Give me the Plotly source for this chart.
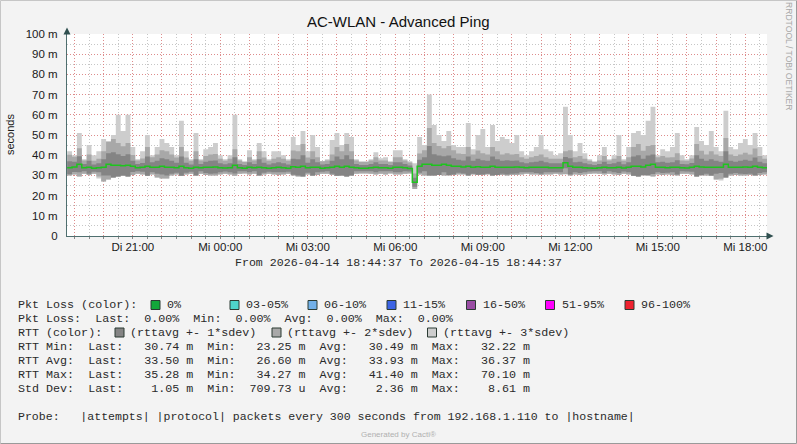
import plotly.graph_objects as go
import pandas as pd

# ---------------- data (ms), one value per 10-minute step ----------------
START = "2026-04-14 18:44:37"
END = "2026-04-15 18:44:37"
FIRST_STEP = "2026-04-14 18:45:00"
STEP_MINUTES = 10

rtt_avg = [33.8, 34.2, 35.5, 33.8, 34.0, 33.6, 33.8, 34.0, 35.5, 35.0, 35.0, 34.8, 35.0, 34.5, 33.8, 34.0,
           34.5, 34.0, 34.0, 34.5, 34.0, 34.0, 33.8, 34.5, 33.8, 33.6, 34.0, 33.8, 34.0, 34.0, 34.2, 33.8,
           33.7, 33.8, 35.0, 33.8, 33.6, 34.0, 33.8, 34.0, 33.8, 33.6, 33.8, 34.0, 33.8, 33.6, 34.3, 34.0,
           34.5, 33.8, 34.0, 34.0, 33.6, 33.8, 34.0, 34.5, 34.0, 34.5, 34.0, 33.8, 33.6, 33.6, 33.8, 34.0,
           33.8, 33.8, 33.6, 34.0, 34.0, 33.8, 33.4, 26.6, 34.5, 35.5, 35.5, 35.0, 35.0, 35.5, 35.0, 34.5,
           34.5, 34.2, 34.5, 34.0, 34.3, 34.0, 34.0, 34.5, 34.0, 34.0, 34.0, 34.0, 34.2, 34.0, 33.8, 34.0,
           34.0, 34.0, 34.0, 33.8, 33.8, 33.8, 36.3, 34.5, 34.0, 34.0, 33.8, 33.7, 33.6, 33.8, 34.0, 33.8,
           33.8, 34.0, 33.7, 34.0, 34.5, 34.5, 34.2, 35.0, 35.5, 34.0, 34.0, 33.8, 34.0, 34.0, 33.8, 33.7,
           34.0, 34.5, 34.2, 34.0, 34.0, 34.0, 34.0, 35.5, 34.0, 34.0, 34.0, 34.2, 34.0, 34.5, 34.0, 33.8]

rtt_sdev = [3.2, 2.5, 4, 1.8, 3.2, 1.8, 2.2, 4, 5.5, 6.5, 5.5, 4.8, 5.5, 2.8, 1.8, 2.2,
            4.8, 2.5, 3.2, 4, 4, 3.2, 2.5, 4.8, 2.5, 1.8, 4, 1.8, 2.8, 3.2, 3.2, 2.2,
            1.8, 2.2, 4, 1.8, 1.5, 2.5, 1.8, 4, 2.5, 1.8, 2.2, 2.5, 2.2, 1.8, 4, 4,
            5.5, 2.5, 4, 2.5, 1.8, 1.8, 3.2, 4.8, 4, 5.5, 4, 1.8, 1.5, 1.5, 1.8, 2.5,
            1.8, 1.8, 1.5, 2.5, 2.5, 1.8, 1.5, 2.2, 3.2, 3.5, 9, 5.5, 4.8, 4, 4.8, 4,
            3.2, 3.2, 4.8, 3.2, 4, 3.5, 3.2, 4.8, 4, 3.2, 3.5, 3.2, 3.2, 2.5, 2.2, 2.5,
            2.8, 3.2, 2.5, 2.2, 2.2, 2.2, 2.8, 4, 2.5, 2.8, 2.2, 1.8, 1.5, 1.8, 2.8, 1.8,
            2.2, 2.8, 1.8, 2.5, 4.8, 5.5, 4, 4.8, 4.8, 2.5, 2.8, 2.5, 2.5, 3.5, 1.8, 1.8,
            2.2, 5.5, 4, 3.2, 4, 3.2, 2.8, 6.5, 3.2, 2.8, 3.2, 3.5, 3.2, 4.4, 2.8, 2.2]

rtt_max = [42, 40, 51, 38, 45, 40, 42, 48, 47, 50, 60, 52, 60, 44, 38, 42,
           50, 40, 44, 48, 46, 44, 40, 57, 42, 38, 51, 38, 43, 44, 46, 40,
           38, 40, 60, 38, 37, 42.5, 38, 46, 42, 38, 42, 42, 40, 38, 49, 45,
           52, 42, 50, 44, 37, 38, 47.5, 51, 45, 51, 49, 38, 37, 37, 38, 41.5,
           38.5, 39, 37, 42.5, 42.5, 38, 37, 36, 49, 45, 70, 55, 50, 47, 52, 45,
           44, 44, 56, 43, 50, 53, 44, 55, 47, 49, 48, 46, 50, 42, 40, 42,
           44, 50, 43, 42, 40, 41, 64, 50, 42, 46, 41, 38, 37, 40, 44, 38,
           40, 50, 38, 44, 51, 52, 50, 57, 64, 40, 43, 42, 44, 51, 40, 38,
           40, 54, 47, 45, 52, 44, 42, 62, 44, 43, 46, 48, 45, 51, 44, 40]

rtt_min = [30.0, 30.5, 29.5, 30.8, 30.2, 30.8, 28.5, 27.0, 28.0, 29.0, 29.5, 29.8, 29.5, 30.2, 30.8, 30.5,
           29.8, 30.5, 29.0, 28.5, 28.5, 30.0, 30.5, 29.8, 30.5, 30.8, 30.0, 30.8, 30.2, 30.0, 30.0, 30.5,
           30.8, 30.5, 29.8, 30.8, 31.0, 30.5, 30.8, 30.0, 30.5, 30.8, 30.5, 30.2, 30.5, 30.8, 30.0, 29.5,
           29.5, 30.5, 29.8, 30.2, 30.8, 30.8, 30.2, 29.8, 30.0, 29.5, 30.0, 30.8, 31.0, 31.0, 30.8, 30.5,
           30.8, 30.5, 31.0, 30.5, 30.5, 30.8, 31.0, 23.3, 30.5, 30.0, 30.0, 30.0, 30.2, 30.0, 30.0, 30.2,
           30.5, 30.5, 30.0, 30.5, 30.2, 30.2, 30.5, 30.0, 30.2, 30.2, 30.0, 30.2, 30.2, 30.5, 30.8, 30.5,
           30.5, 30.2, 30.5, 30.5, 30.8, 30.5, 30.5, 30.0, 30.5, 30.2, 30.5, 30.8, 31.0, 30.8, 30.5, 30.8,
           30.5, 30.2, 30.8, 30.5, 29.8, 29.5, 30.0, 29.8, 29.5, 30.5, 30.2, 30.5, 30.2, 30.0, 30.8, 30.8,
           30.5, 29.5, 30.0, 30.0, 29.8, 28.0, 27.5, 29.0, 30.0, 30.2, 30.0, 30.0, 30.2, 29.8, 30.2, 30.5]

# axis ticks
y_ticks = [0, 10, 20, 30, 40, 50, 60, 70, 80, 90, 100]
y_ticktext = ["0", "10 m", "20 m", "30 m", "40 m", "50 m", "60 m", "70 m", "80 m", "90 m", "100 m"]
x_label_hours = [21, 0, 3, 6, 9, 12, 15, 18]
day_names = {"2026-04-14": "Di", "2026-04-15": "Mi"}

# legend texts / statistics
title_text = "AC-WLAN - Advanced Ping"
loss_labels = ["0%", "03-05%", "06-10%", "11-15%", "16-50%", "51-95%", "96-100%"]
loss_colors = ["#12a83a", "#4ed4cb", "#72b0e8", "#3d64e4", "#9a4ea4", "#ff00ff", "#ee2230"]
rtt_labels = ["(rttavg +- 1*sdev)", "(rttavg +- 2*sdev)", "(rttavg +- 3*sdev)"]
rtt_colors = ["#848484", "#a8a8a8", "#cdcdcd"]
pkt_loss_stats = [0.00, 0.00, 0.00, 0.00]
stat_rows = [
    ("RTT Min:", [(30.74, "m"), (23.25, "m"), (30.49, "m"), (32.22, "m")]),
    ("RTT Avg:", [(33.50, "m"), (26.60, "m"), (33.93, "m"), (36.37, "m")]),
    ("RTT Max:", [(35.28, "m"), (34.27, "m"), (41.40, "m"), (70.10, "m")]),
    ("Std Dev:", [(1.05, "m"), (709.73, "u"), (2.36, "m"), (8.61, "m")]),
]
probe_text = "Probe:   |attempts| |protocol| packets every 300 seconds from 192.168.1.110 to |hostname|"

# ---------------- layout geometry (pixels) ----------------
W, H = 797, 444
PL, PR, PT, PB = 67, 767, 34, 236
MONO = "Liberation Mono"
SANS = "Liberation Sans, Arial, sans-serif"
TXT = "#2a2a2a"


def px(x):
    return (x - PL) / (PR - PL)


def py(y):
    return (PB - y) / (PB - PT)


def nb(s):
    return s.replace(" ", "\u00a0")


n = len(rtt_avg)
times = list(pd.date_range(FIRST_STEP, periods=n, freq=f"{STEP_MINUTES}min")) + [pd.Timestamp(END)]


def ext(v):
    return list(v) + [v[-1]]


avg = ext(rtt_avg)
sd = ext(rtt_sdev)
mn = ext(rtt_min)
mx = ext(rtt_max)

lo1 = [max(a - s, m) for a, s, m in zip(avg, sd, mn)]
hi1 = [min(a + s, M) for a, s, M in zip(avg, sd, mx)]
lo2 = [max(a - 2 * s, m) for a, s, m in zip(avg, sd, mn)]
hi2 = [min(a + 2 * s, M) for a, s, M in zip(avg, sd, mx)]

fig = go.Figure()


def band(lo, hi, color):
    fig.add_trace(go.Scatter(x=times, y=lo, mode="lines", line=dict(width=0, shape="hv"),
                             hoverinfo="skip", showlegend=False))
    fig.add_trace(go.Scatter(x=times, y=hi, mode="lines", line=dict(width=0, shape="hv"),
                             fill="tonexty", fillcolor=color, hoverinfo="skip", showlegend=False))


band(mn, mx, rtt_colors[2])
band(lo2, hi2, rtt_colors[1])
band(lo1, hi1, rtt_colors[0])
fig.add_trace(go.Scatter(x=times, y=avg, mode="lines", line=dict(color="#1ec41e", width=1.5, shape="hv"),
                         showlegend=False))

# x ticks: every hour, labelled every 3 hours
hours = pd.date_range("2026-04-14 19:00", "2026-04-15 18:00", freq="1h")
x_tickvals = list(hours)
x_ticktext = []
for h in hours:
    if h.hour in x_label_hours:
        x_ticktext.append(f"{day_names[h.strftime('%Y-%m-%d')]} {h.strftime('%H:%M')}")
    else:
        x_ticktext.append("")

AXIS_COL = "#4f6f6f"
MGRID = "rgba(228,120,120,0.75)"
GRID = "rgba(160,160,160,0.6)"

fig.update_layout(
    width=W, height=H,
    margin=dict(l=PL, r=W - PR, t=PT, b=H - PB, pad=0),
    paper_bgcolor="#f3f3f3",
    plot_bgcolor="#ffffff",
    showlegend=False,
    xaxis=dict(
        type="date", range=[START, END],
        tickmode="array", tickvals=x_tickvals, ticktext=x_ticktext,
        showgrid=True, gridcolor=MGRID, griddash="1px,2px", gridwidth=1,
        ticks="", tickfont=dict(family=SANS, size=11.5, color="#1a1a1a"),
        showline=True, linecolor=AXIS_COL, linewidth=1,
        zeroline=False, fixedrange=True,
        minor=dict(tickmode="linear", tick0="2026-04-14 18:30:00", dtick=1800000,
                   showgrid=True, gridcolor=GRID, griddash="1px,2px", gridwidth=1,
                   ticks="outside", ticklen=2, tickcolor="#888"),
    ),
    yaxis=dict(
        range=[0, 100], tickmode="array", tickvals=y_ticks, ticktext=y_ticktext,
        showgrid=True, gridcolor=MGRID, griddash="1px,2px", gridwidth=1,
        ticks="", tickfont=dict(family=SANS, size=11.5, color="#1a1a1a"),
        showline=True, linecolor=AXIS_COL, linewidth=1, zeroline=False, fixedrange=True,
        minor=dict(tickmode="linear", tick0=0, dtick=5, showgrid=True,
                   gridcolor=GRID, griddash="1px,2px", gridwidth=1),
        ticklabelstandoff=6,
    ),
)

ann = []
shapes = []

ann.append(dict(text=title_text, x=px(398), y=py(22), xref="paper", yref="paper",
                showarrow=False, xanchor="center", yanchor="middle",
                font=dict(family=SANS, size=15, color="#111")))
ann.append(dict(text="seconds", x=px(10), y=py(135), xref="paper", yref="paper",
                showarrow=False, textangle=-90, xanchor="center", yanchor="middle",
                font=dict(family=SANS, size=11, color="#1a1a1a")))
ann.append(dict(text="RRDTOOL / TOBI OETIKER", x=px(789), y=py(56), xref="paper", yref="paper",
                showarrow=False, textangle=90, xanchor="center", yanchor="middle",
                font=dict(family=SANS, size=8.6, color="#a8a8a8")))
ann.append(dict(text=nb(f"From {START} To {END}"), x=px(398), y=py(262),
                xref="paper", yref="paper", showarrow=False, xanchor="center", yanchor="middle",
                font=dict(family=MONO, size=11.6, color=TXT)))


def mono(text, x, y, size=11.7, color=TXT):
    ann.append(dict(text=nb(text), x=px(x), y=py(y), xref="paper", yref="paper",
                    showarrow=False, xanchor="left", yanchor="middle",
                    font=dict(family=MONO, size=size, color=color)))


def swatch(x, y, color):
    shapes.append(dict(type="rect", xref="paper", yref="paper",
                       x0=px(x), x1=px(x + 9), y0=py(y - 4.5), y1=py(y + 4.5),
                       fillcolor=color, line=dict(color="#2b3b33", width=1), layer="above"))


# row 1: loss colours
mono("Pkt Loss (color):", 16, 305)
loss_sw_x = [151, 230, 308, 387, 466.5, 545.5, 625]
for lbl, col, sx in zip(loss_labels, loss_colors, loss_sw_x):
    swatch(sx, 305, col)
    mono(lbl, sx + 14, 305)

# row 2: pkt loss stats
l, mi, av, ma = pkt_loss_stats
mono(f"{'Pkt Loss:':<11}Last:{l:6.2f}%  Min:{mi:6.2f}%  Avg:{av:6.2f}%  Max:{ma:6.2f}%", 16, 318.5)

# row 3: rtt colours
mono("RTT (color):", 16, 332.5)
rtt_sw_x = [115, 272, 427.5]
for lbl, col, sx in zip(rtt_labels, rtt_colors, rtt_sw_x):
    swatch(sx, 332.5, col)
    mono(lbl, sx + 13, 332.5)

# rows 4-7
for k, (name, vals) in enumerate(stat_rows):
    (v1, u1), (v2, u2), (v3, u3), (v4, u4) = vals
    s = f"{name:<10}Last:{v1:8.2f} {u1}  Min:{v2:8.2f} {u2}  Avg:{v3:8.2f} {u3}  Max:{v4:8.2f} {u4}"
    mono(s, 16, 346.5 + 14 * k)

mono(probe_text, 16, 416, size=11.55)

ann.append(dict(text="Generated by Cacti®", x=px(398), y=py(434), xref="paper", yref="paper",
                showarrow=False, xanchor="center", yanchor="middle",
                font=dict(family=SANS, size=8, color="#b0b0b0")))

# axis arrows
shapes.append(dict(type="path", xref="paper", yref="paper",
                   path=f"M {px(63.5)} {py(34.5)} L {px(70.5)} {py(34.5)} L {px(67)} {py(27.5)} Z",
                   fillcolor="#2f4f4f", line=dict(width=0), layer="above"))
shapes.append(dict(type="path", xref="paper", yref="paper",
                   path=f"M {px(766.5)} {py(232.5)} L {px(766.5)} {py(239.5)} L {px(773.5)} {py(236)} Z",
                   fillcolor="#2f4f4f", line=dict(width=0), layer="above"))
# image frame
shapes.append(dict(type="path", xref="paper", yref="paper",
                   path=f"M {px(0.5)} {py(443.5)} L {px(0.5)} {py(0.5)} L {px(796.5)} {py(0.5)}",
                   line=dict(color="#c6c6c6", width=1), layer="above"))
shapes.append(dict(type="path", xref="paper", yref="paper",
                   path=f"M {px(796.5)} {py(0.5)} L {px(796.5)} {py(443.5)} L {px(0.5)} {py(443.5)}",
                   line=dict(color="#9a9a9a", width=1), layer="above"))

fig.update_layout(annotations=ann, shapes=shapes)
fig.write_html("out.html",
               config={"displayModeBar": False, "staticPlot": False},
               post_script="document.body.style.margin='0';document.body.style.padding='0';"
                           "document.body.style.background='#f3f3f3';")
